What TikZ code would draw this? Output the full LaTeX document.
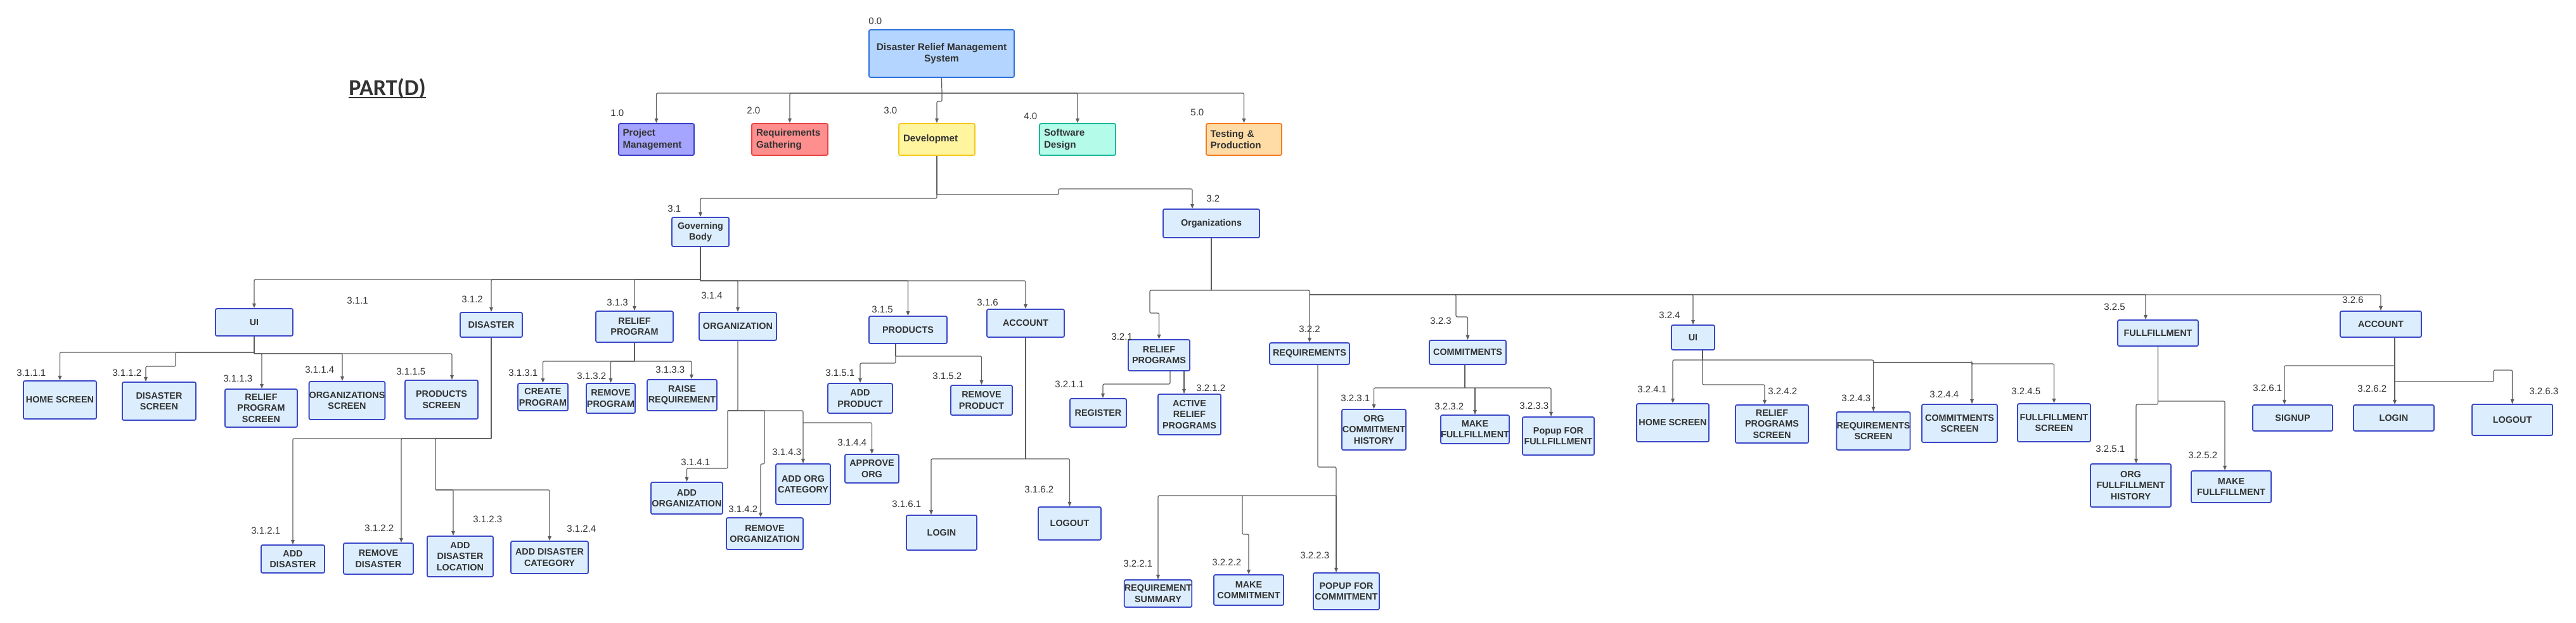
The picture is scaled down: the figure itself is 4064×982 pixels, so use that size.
\documentclass[tikz,border=0pt]{standalone}
\usepackage{fontspec}
\setmainfont{Liberation Sans}
\newfontfamily\partfont{Carlito}
\usetikzlibrary{arrows.meta}
\definecolor{boxfill}{HTML}{DCEEFE}
\definecolor{boxline}{HTML}{3A47C8}
\definecolor{lncol}{HTML}{5E5E5E}
\definecolor{txt}{HTML}{333333}
\definecolor{rootfill}{HTML}{B4D5FF}
\definecolor{rootline}{HTML}{2E72DB}
\definecolor{pmfill}{HTML}{A5A5FF}
\definecolor{pmline}{HTML}{3D3DC4}
\definecolor{rgfill}{HTML}{FF8F8F}
\definecolor{rgline}{HTML}{E84545}
\definecolor{dvfill}{HTML}{FFF59F}
\definecolor{dvline}{HTML}{F4C71D}
\definecolor{sdfill}{HTML}{B4FBEA}
\definecolor{sdline}{HTML}{1CB99A}
\definecolor{tpfill}{HTML}{FFDCA6}
\definecolor{tpline}{HTML}{F57C22}
\tikzset{
 box/.style={draw=boxline, fill=boxfill, line width=0.9pt, rounded corners=1.2pt, inner sep=0pt, align=center, font=\bfseries\fontsize{7.2}{8.6}\selectfont, text=txt},
 lone/.style={align=left, text width=53pt, font=\bfseries\fontsize{7.6}{9.2}\selectfont},
 lbl/.style={anchor=west, inner sep=0pt, font=\fontsize{7.5}{9}\selectfont, text=txt},
 ln/.style={draw=lncol, line width=0.6pt, rounded corners=1pt},
 ar/.style={ln, -{Triangle[length=3.6pt,width=2.8pt]}},
}
\newcommand\bx[7][]{\node[box,minimum width={(#5-#3)*0.5pt},minimum height={(#6-#4)*0.5pt},#1] (#2) at ({(#3+#5)/2},{(#4+#6)/2}) {#7};}
\newcommand\lb[4]{\node[lbl] (#1) at (#2,#3) {#4};}
\begin{document}
\begin{tikzpicture}[x=0.5pt,y=-0.5pt]
\fill[white] (0,0) rectangle (4064,982);
\useasboundingbox (0,0) rectangle (4064,982);

% title
\node[anchor=base, inner sep=0pt, text=txt, font=\partfont\bfseries\fontsize{18}{20}\selectfont] (title) at (611,150) {PART(D)};
\draw[txt, line width=1.1pt] ([yshift=-2pt]title.base west) -- ([yshift=-2pt]title.base east);

% root and level 1
\bx[fill=rootfill,draw=rootline,font=\bfseries\fontsize{7.7}{9.4}\selectfont]{root}{1371}{47}{1600}{122}{Disaster Relief Management\\System}
\bx[lone,fill=pmfill,draw=pmline]{pm}{976}{195}{1095}{245}{Project\\Management}
\bx[lone,fill=rgfill,draw=rgline]{rg}{1186}{195}{1306}{245}{Requirements\\Gathering}
\bx[lone,fill=dvfill,draw=dvline]{dv}{1418}{195}{1538}{245}{Developmet}
\bx[lone,fill=sdfill,draw=sdline]{sd}{1640}{195}{1760}{245}{Software\\Design}
\bx[lone,fill=tpfill,draw=tpline]{tp}{1903}{195}{2022}{245}{Testing \&\\Production}

% level 2
\bx{gb}{1060}{343}{1150}{389}{Governing\\Body}
\bx{org}{1835}{330}{1987}{375}{Organizations}

% 3.1.x
\bx{ui1}{340}{487}{462}{530}{UI}
\bx{dis}{726}{493}{824}{532}{DISASTER}
\bx{rp}{940}{491}{1062}{540}{RELIEF\\PROGRAM}
\bx{ogz}{1103}{493}{1225}{537}{ORGANIZATION}
\bx{prd}{1371}{499}{1494}{542}{PRODUCTS}
\bx{acc}{1557}{488}{1679}{532}{ACCOUNT}

% 3.1.1.x
\bx{hs1}{37}{601}{152}{661}{HOME SCREEN}
\bx{dsc}{193}{603}{309}{663}{DISASTER\\SCREEN}
\bx{rps}{355}{614}{469}{674}{RELIEF\\PROGRAM\\SCREEN}
\bx{osc}{488}{602}{607}{662}{ORGANIZATIONS\\SCREEN}
\bx{psc}{639}{600}{754}{661}{PRODUCTS\\SCREEN}

% 3.1.2.x
\bx{ad}{412}{860}{512}{904}{ADD\\DISASTER}
\bx{rd}{542}{857}{652}{906}{REMOVE\\DISASTER}
\bx{adl}{674}{846}{778}{910}{ADD\\DISASTER\\LOCATION}
\bx{adc}{806}{854}{928}{905}{ADD DISASTER\\CATEGORY}

% 3.1.3.x
\bx{cp}{817}{605}{896}{648}{CREATE\\PROGRAM}
\bx{rmp}{925}{605}{1002}{652}{REMOVE\\PROGRAM}
\bx{rr}{1021}{599}{1131}{648}{RAISE\\REQUIREMENT}

% 3.1.4.x
\bx{ao}{1027}{761}{1140}{811}{ADD\\ORGANIZATION}
\bx{ro}{1146}{817}{1267}{867}{REMOVE\\ORGANIZATION}
\bx{aoc}{1224}{732}{1310}{796}{ADD ORG\\CATEGORY}
\bx{apo}{1333}{717}{1418}{762}{APPROVE\\ORG}

% 3.1.5.x
\bx{ap}{1306}{605}{1408}{652}{ADD\\PRODUCT}
\bx{rpr}{1500}{608}{1597}{655}{REMOVE\\PRODUCT}

% 3.1.6.x
\bx{li1}{1430}{813}{1541}{868}{LOGIN}
\bx{lo1}{1638}{800}{1737}{852}{LOGOUT}

% 3.2.x
\bx{rps2}{1780}{536}{1877}{585}{RELIEF\\PROGRAMS}
\bx{req}{2003}{541}{2129}{575}{REQUIREMENTS}
\bx{com}{2255}{537}{2376}{575}{COMMITMENTS}
\bx{ui2}{2637}{513}{2705}{552}{UI}
\bx{ful}{3341}{505}{3468}{546}{FULLFILLMENT}
\bx{acc2}{3692}{491}{3820}{532}{ACCOUNT}

% 3.2.1.x
\bx{reg}{1688}{629}{1777}{674}{REGISTER}
\bx{arp}{1827}{622}{1926}{686}{ACTIVE\\RELIEF\\PROGRAMS}

% 3.2.2.x
\bx{rs}{1777}{915}{1877}{958}{REQUIREMENT\\SUMMARY}
\bx{mc}{1915}{907}{2025}{955}{MAKE\\COMMITMENT}
\bx{pfc}{2072}{904}{2176}{962}{POPUP FOR\\COMMITMENT}

% 3.2.3.x
\bx{och}{2117}{646}{2218}{710}{ORG\\COMMITMENT\\HISTORY}
\bx{mf}{2273}{655}{2381}{700}{MAKE\\FULLFILLMENT}
\bx{pff}{2402}{658}{2515}{718}{Popup FOR\\FULLFILLMENT}

% 3.2.4.x
\bx{hs2}{2582}{637}{2696}{697}{HOME SCREEN}
\bx{rpsc}{2738}{639}{2853}{699}{RELIEF\\PROGRAMS\\SCREEN}
\bx{rqs}{2898}{650}{3013}{710}{REQUIREMENTS\\SCREEN}
\bx{cms}{3032}{638}{3151}{698}{COMMITMENTS\\SCREEN}
\bx{fls}{3183}{637}{3298}{697}{FULLFILLMENT\\SCREEN}

% 3.2.5.x
\bx{ofh}{3298}{732}{3425}{800}{ORG\\FULLFILLMENT\\HISTORY}
\bx{mf2}{3457}{743}{3583}{793}{MAKE\\FULLFILLMENT}

% 3.2.6.x
\bx{su}{3554}{639}{3680}{680}{SIGNUP}
\bx{li2}{3713}{639}{3840}{680}{LOGIN}
\bx{lo2}{3900}{638}{4027}{687}{LOGOUT}

% labels
\lb{n00}{1370}{33}{0.0}
\lb{n10}{963}{178}{1.0}
\lb{n20}{1178}{174}{2.0}
\lb{n30}{1394}{174}{3.0}
\lb{n40}{1615}{183}{4.0}
\lb{n50}{1878}{177}{5.0}
\lb{n31}{1053}{329}{3.1}
\lb{n32}{1903}{313}{3.2}
\lb{n311}{547}{474}{3.1.1}
\lb{n312}{728}{472}{3.1.2}
\lb{n313}{957}{477}{3.1.3}
\lb{n314}{1106}{466}{3.1.4}
\lb{n315}{1375}{488}{3.1.5}
\lb{n316}{1541}{477}{3.1.6}
\lb{n3111}{26}{588}{3.1.1.1}
\lb{n3112}{177}{588}{3.1.1.2}
\lb{n3113}{352}{597}{3.1.1.3}
\lb{n3114}{481}{583}{3.1.1.4}
\lb{n3115}{625}{586}{3.1.1.5}
\lb{n3121}{396}{837}{3.1.2.1}
\lb{n3122}{575}{833}{3.1.2.2}
\lb{n3123}{746}{819}{3.1.2.3}
\lb{n3124}{894}{834}{3.1.2.4}
\lb{n3131}{802}{588}{3.1.3.1}
\lb{n3132}{910}{593}{3.1.3.2}
\lb{n3133}{1034}{583}{3.1.3.3}
\lb{n3141}{1074}{729}{3.1.4.1}
\lb{n3142}{1149}{803}{3.1.4.2}
\lb{n3143}{1218}{713}{3.1.4.3}
\lb{n3144}{1321}{698}{3.1.4.4}
\lb{n3151}{1302}{588}{3.1.5.1}
\lb{n3152}{1471}{593}{3.1.5.2}
\lb{n3161}{1407}{795}{3.1.6.1}
\lb{n3162}{1616}{772}{3.1.6.2}
\lb{n321}{1753}{531}{3.2.1}
\lb{n3211}{1664}{606}{3.2.1.1}
\lb{n3212}{1887}{612}{3.2.1.2}
\lb{n322}{2049}{519}{3.2.2}
\lb{n3221}{1772}{889}{3.2.2.1}
\lb{n3222}{1912}{887}{3.2.2.2}
\lb{n3223}{2051}{876}{3.2.2.3}
\lb{n323}{2256}{506}{3.2.3}
\lb{n3231}{2115}{628}{3.2.3.1}
\lb{n3232}{2263}{641}{3.2.3.2}
\lb{n3233}{2397}{640}{3.2.3.3}
\lb{n324}{2617}{497}{3.2.4}
\lb{n3241}{2583}{614}{3.2.4.1}
\lb{n3242}{2789}{617}{3.2.4.2}
\lb{n3243}{2905}{628}{3.2.4.3}
\lb{n3244}{3044}{622}{3.2.4.4}
\lb{n3245}{3173}{617}{3.2.4.5}
\lb{n325}{3319}{484}{3.2.5}
\lb{n3251}{3306}{708}{3.2.5.1}
\lb{n3252}{3452}{718}{3.2.5.2}
\lb{n326}{3695}{473}{3.2.6}
\lb{n3261}{3554}{612}{3.2.6.1}
\lb{n3262}{3719}{613}{3.2.6.2}
\lb{n3263}{3990}{617}{3.2.6.3}

% ---------- connectors ----------
% root
\coordinate (b0) at (1486,147);
\draw[ln] (root.south) -- (b0);
\draw[ar] (b0) -| (pm.north);
\draw[ar] (b0) -| (rg.north);
\draw[ar] (b0) -| (sd.north);
\draw[ar] (b0) -| (tp.north);
\draw[ar] (b0) -- (1486,160) -| (dv.north);

% development
\coordinate (b1) at (1478,307);
\draw[ln] (dv.south) -- (b1);
\draw[ar] (b1) -- (1478,313) -| (gb.north);
\draw[ar] (b1) -- (1670,307) -- (1670,298) -| (org.north -| 1881,0);

% governing body
\coordinate (b2) at (1105,441);
\coordinate (b2r) at (1105,443);
\draw[ln] (gb.south) -- (b2r);
\draw[ar] (b2) -| (ui1.north);
\draw[ar] (b2) -| (dis.north);
\draw[ar] (b2) -| (rp.north);
\draw[ar] (b2r) -| (ogz.north);
\draw[ar] (b2r) -| (prd.north);
\draw[ar] (b2r) -| (acc.north);

% UI
\coordinate (b3) at (401,556);
\coordinate (b3r) at (401,558);
\draw[ln] (ui1.south) -- (b3r);
\draw[ar] (b3) -| (hs1.north);
\draw[ar] (b3) -- (277,556) -- (277,578) -| (dsc.north -| 230,0);
\draw[ar] (b3r) -| (rps.north -| 413,0);
\draw[ar] (b3r) -| (osc.north -| 540,0);
\draw[ar] (b3r) -| (psc.north -| 713,0);

% DISASTER
\coordinate (b4) at (775,692);
\coordinate (b4a) at (687,773);
\draw[ln] (dis.south) -- (b4);
\draw[ar] (b4) -| (ad.north);
\draw[ar] (b4) -| (rd.north -| 633,0);
\draw[ar] (b4) -| (b4a) -| (adc.north);
\draw[ar] (b4a) -| (adl.north -| 715,0);

% RELIEF PROGRAM
\coordinate (b5) at (1001,570);
\draw[ln] (rp.south) -- (b5);
\draw[ar] (b5) -| (cp.north);
\draw[ar] (b5) -| (rmp.north);
\draw[ar] (b5) -| (rr.north -| 1091,0);

% ORGANIZATION
\coordinate (b6) at (1148,648);
\coordinate (b6a) at (1267,667);
\draw[ln] (ogz.south) |- (b6);
\draw[ar] (b6) -- (1148,739) -| (ao.north);
\draw[ar] (b6) -- (1206,648) -- (1206,732) -- (1200,732) -- (ro.north -| 1200,0);
\draw[ar] (b6) -| (aoc.north);
\draw[ar] (b6a) -| (apo.north);

% PRODUCTS
\coordinate (b7) at (1413,562);
\draw[ln] (prd.south -| 1413,0) -- (b7);
\draw[ar] (b7) -| (rpr.north);
\draw[ar] (b7) -- (1413,573) -| (ap.north);

% ACCOUNT 3.1.6
\coordinate (b8) at (1618,724);
\draw[ln] (acc.south) -- (b8);
\draw[ar] (b8) -| (li1.north -| 1469,0);
\draw[ar] (b8) -| (lo1.north);

% Organizations
\coordinate (b9) at (1911,458);
\coordinate (b10) at (2066,465);
\draw[ln] (org.south) -- (b9);
\draw[ar] (b9) -| (1814,494) -| (rps2.north);
\draw[ar] (b9) -| (req.north);
\draw[ar] (b10) -- (2297,465) -- (2297,500) -| (com.north);
\draw[ar] (b10) -| (ui2.north);
\draw[ar] (b10) -| (ful.north -| 3385,0);
\draw[ar] (b10) -| (acc2.north);

% RELIEF PROGRAMS 3.2.1
\draw[ar] (rps2.south -| 1846,0) -- (1846,606) -| (reg.north -| 1740,0);
\draw[ar] (rps2.south -| 1868,0) -- (arp.north -| 1868,0);

% REQUIREMENTS 3.2.2
\coordinate (b11) at (2108,782);
\coordinate (b11a) at (1960,782);
\draw[ln] (req.south -| 2079,0) |- (2108,737) -- (b11);
\draw[ar] (b11) -- (pfc.north -| 2108,0);
\draw[ar] (b11) -| (rs.north);
\draw[ar] (b11a) -- (1960,843) -| (mc.north);

% COMMITMENTS 3.2.3
\coordinate (b12) at (2311,612);
\coordinate (b12a) at (2327,612);
\draw[ln] (com.south -| 2311,0) -- (b12);
\draw[ar] (b12) -| (och.north);
\draw[ar] (b12) -| (pff.north -| 2447,0);
\draw[ar] (b12a) -- (mf.north);

% UI 3.2.4
\coordinate (b13) at (2686,568);
\coordinate (b13a) at (2956,572);
\draw[ln] (ui2.south -| 2686,0) -- (b13);
\draw[ar] (b13) -- (2686,607) -| (rpsc.north -| 2784,0);
\draw[ar] (b13) -| (hs2.north);
\draw[ar] (b13) -| (rqs.north);
\draw[ar] (b13a) -| (cms.north -| 3111,0);
\draw[ar] (b13a) -- (3111,572) -- (3111,574) -| (fls.north);

% FULLFILLMENT 3.2.5
\coordinate (b14) at (3404,633);
\draw[ar] (ful.south) |- (3370,638) -- (ofh.north -| 3370,0);
\draw[ar] (b14) -| (mf2.north -| 3510,0);

% ACCOUNT 3.2.6
\coordinate (b15) at (3778,577);
\coordinate (b15a) at (3778,602);
\draw[ln] (acc2.south -| 3778,0) -- (b15);
\draw[ar] (b15) -| (su.north -| 3604,0);
\draw[ar] (b15) -- (li2.north -| 3778,0);
\draw[ar] (b15a) -- (3934,602) -- (3934,584) -| (lo2.north);
\end{tikzpicture}
\end{document}
